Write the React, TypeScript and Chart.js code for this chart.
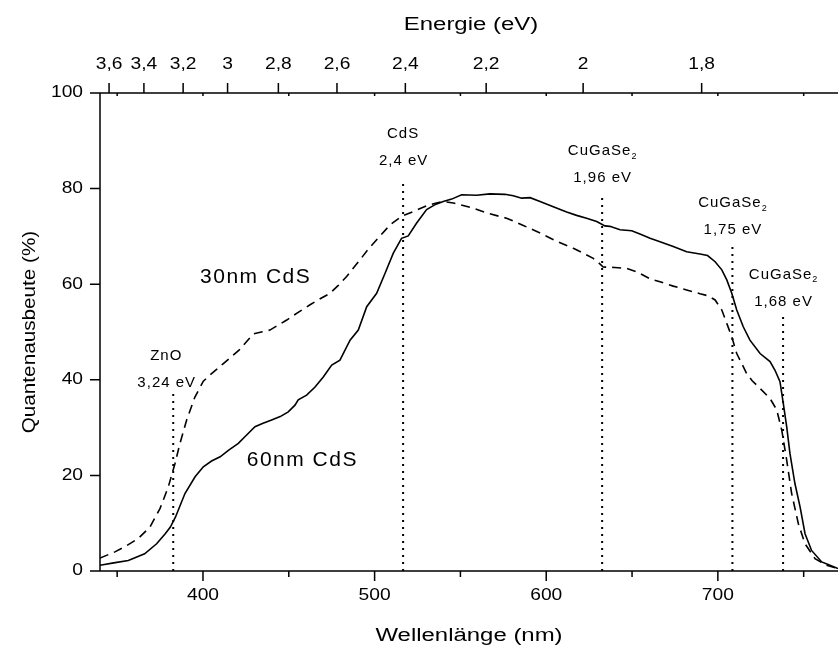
import { useEffect, useRef } from 'react';
import { Chart, registerables } from 'chart.js';

Chart.register(...registerables);

// 60nm CdS (solid)
const wl60 = [340, 348, 356.5, 366, 373, 378, 381, 384, 389.5, 395.4, 400.2, 405, 410, 415, 420.6, 425, 430.3, 435, 440, 445, 449.7, 453.6, 455.5, 460.4, 465.3, 470.1, 475, 479.8, 485.7, 490.5, 495.4, 501.2, 506.1, 510.9, 515.7, 519.6, 524.5, 530.3, 535, 540, 544.9, 550.7, 559.4, 567.2, 575.9, 580.8, 585.7, 590.6, 596.4, 604.1, 611.9, 617.7, 623.5, 629.4, 634.2, 637.1, 643, 649.8, 654.6, 660.5, 666.3, 674, 681.8, 689.6, 694, 698.4, 702.3, 705.2, 708.1, 711, 714.8, 718.7, 724.6, 730.4, 733.3, 736.2, 738.1, 740.1, 742, 744.9, 747.9, 750.8, 754.6, 760.5, 765.3, 770];
const qe60 = [1.2, 1.7, 2.2, 3.6, 5.7, 7.8, 9.2, 11.3, 16.2, 19.7, 21.8, 23, 23.9, 25.3, 26.7, 28.3, 30.2, 30.9, 31.6, 32.3, 33.3, 34.7, 35.8, 36.8, 38.5, 40.6, 43.1, 44.1, 48.3, 50.4, 55.3, 58.1, 62.3, 66.5, 69.6, 70.1, 72.8, 75.6, 76.6, 77.3, 77.8, 78.7, 78.6, 78.9, 78.8, 78.5, 78, 78.1, 77.3, 76.2, 75.1, 74.4, 73.8, 73.1, 72.2, 72.1, 71.4, 71.2, 70.5, 69.6, 68.9, 67.9, 66.8, 66.3, 66, 64.7, 63, 60.9, 58.1, 54.6, 51.1, 48.3, 45.5, 43.8, 42, 39.6, 35.1, 30.2, 24.6, 18.3, 13.4, 7.8, 4.3, 1.9, 1.2, 0.5];

// 30nm CdS (dashed)
const wl30 = [340, 348.7, 355, 362.3, 369.1, 375, 379.8, 383.7, 386.6, 390.5, 395.3, 400.2, 405, 411, 421, 429.3, 434, 439, 448.8, 455, 462.4, 468, 474, 479, 483.7, 491.5, 496, 501.2, 509, 515.7, 522.5, 530.3, 536, 540, 545.9, 550, 557.5, 565.3, 576.9, 586, 596.4, 606, 615.8, 622, 627.4, 630.5, 633.2, 640, 646.8, 652.7, 660, 666.3, 674, 681.8, 689.6, 694, 698.4, 702.3, 705.2, 708.1, 711, 716.8, 720, 724.6, 730.4, 734.3, 737.2, 740.1, 743, 746.9, 750.8, 756.6, 763.4, 770];
const qe30 = [2.7, 4, 5.2, 6.8, 9.2, 13.1, 17.6, 22.5, 26.7, 31.6, 36.4, 39.7, 41.3, 43.1, 46.2, 49.6, 50, 50.4, 52.5, 54, 55.7, 56.9, 58.1, 59.8, 61.6, 65.1, 67.2, 69.3, 72.4, 74.2, 75.2, 76.4, 77, 77.3, 77, 76.6, 75.9, 74.9, 73.8, 72.4, 70.7, 69, 67.5, 66.4, 65.4, 64.5, 63.6, 63.5, 63.3, 62.6, 61.2, 60.5, 59.6, 58.8, 58, 57.6, 56.7, 54.6, 51.8, 49, 45.5, 41.3, 39.8, 38.2, 36.1, 33.7, 29.5, 23.2, 16.2, 9.9, 5.7, 2.6, 1.2, 0.5];

const xMajorTicks = [400, 500, 600, 700];
const xMinorTicks = [350, 450, 550, 650, 750];
const yTicks = [0, 20, 40, 60, 80, 100];
const energyTicks = [3.6, 3.4, 3.2, 3, 2.8, 2.6, 2.4, 2.2, 2, 1.8];
const energyTickLabels = ['3,6', '3,4', '3,2', '3', '2,8', '2,6', '2,4', '2,2', '2', '1,8'];

const gapEnergies = [3.24, 2.4, 1.96, 1.75, 1.68];
const gapMaterials = ['ZnO', 'CdS', 'CuGaSe', 'CuGaSe', 'CuGaSe'];
const gapSubscripts = ['', '', '2', '2', '2'];
const gapEnergyLabels = ['3,24 eV', '2,4 eV', '1,96 eV', '1,75 eV', '1,68 eV'];
const gapLineTops = [37.8, 81.5, 79.1, 67.9, 53.6];
const gapLabelLevels = [39.4, 85.7, 82.2, 71.3, 56.4];

const curveLabels = ['30nm CdS', '60nm CdS'];
const curveLabelX = [398.3, 425.5];
const curveLabelY = [61.5, 23.2];

const HC = 1239.84;
const HC_AXIS = 1243;
const FONT = '"Liberation Sans", Arial, Helvetica, sans-serif';

type TOpts = { size: number; sx?: number; ls?: number; align?: 'left' | 'center' | 'right' };

function drawText(ctx: CanvasRenderingContext2D, s: string, x: number, y: number, o: TOpts) {
  ctx.save();
  ctx.font = `${o.size}px ${FONT}`;
  (ctx as any).letterSpacing = `${o.ls || 0}px`;
  ctx.textBaseline = 'middle';
  ctx.textAlign = 'left';
  ctx.fillStyle = '#000';
  const sx = o.sx || 1;
  const w = (ctx.measureText(s).width - (o.ls || 0)) * sx;
  let left = x;
  if (o.align === 'center' || !o.align) left = x - w / 2;
  else if (o.align === 'right') left = x - w;
  ctx.translate(left, y);
  ctx.scale(sx, 1);
  ctx.fillText(s, 0, 0);
  ctx.restore();
}

function measure(ctx: CanvasRenderingContext2D, s: string, size: number, ls: number) {
  ctx.save();
  ctx.font = `${size}px ${FONT}`;
  (ctx as any).letterSpacing = `${ls}px`;
  const w = ctx.measureText(s).width;
  ctx.restore();
  return w;
}

const axesPlugin = {
  id: 'axesPlugin',
  afterDatasetsDraw(chart: any) {
    const ctx: CanvasRenderingContext2D = chart.ctx;
    const xs = chart.scales.x;
    const ys = chart.scales.y;
    const { left, right, top, bottom } = chart.chartArea;
    ctx.save();
    ctx.strokeStyle = '#000';
    ctx.lineWidth = 1.5;
    ctx.lineCap = 'butt';
    ctx.beginPath();
    ctx.moveTo(left, top);
    ctx.lineTo(left, bottom);
    ctx.moveTo(left, bottom);
    ctx.lineTo(right, bottom);
    ctx.moveTo(left, top);
    ctx.lineTo(right, top);
    ctx.stroke();

    ctx.beginPath();
    for (const v of yTicks) {
      const y = ys.getPixelForValue(v);
      ctx.moveTo(left - 10, y);
      ctx.lineTo(left, y);
    }
    for (const v of xMajorTicks) {
      const x = xs.getPixelForValue(v);
      ctx.moveTo(x, bottom);
      ctx.lineTo(x, bottom + 10);
    }
    for (const v of xMinorTicks) {
      const x = xs.getPixelForValue(v);
      ctx.moveTo(x, bottom);
      ctx.lineTo(x, bottom + 6);
    }
    for (const e of energyTicks) {
      const x = xs.getPixelForValue(HC_AXIS / e);
      ctx.moveTo(x, top);
      ctx.lineTo(x, top - 10);
    }
    for (const v of [...xMajorTicks, ...xMinorTicks]) {
      const x = xs.getPixelForValue(v);
      ctx.moveTo(x, top);
      ctx.lineTo(x, top + 3);
    }
    ctx.stroke();
    ctx.restore();

    for (const v of yTicks) {
      drawText(ctx, String(v), left - 17, ys.getPixelForValue(v), { size: 16, sx: 1.2, align: 'right' });
    }
    for (const v of xMajorTicks) {
      drawText(ctx, String(v), xs.getPixelForValue(v), bottom + 25, { size: 16, sx: 1.2 });
    }
    energyTicks.forEach((e, i) => {
      drawText(ctx, energyTickLabels[i], xs.getPixelForValue(HC_AXIS / e), top - 28, { size: 16, sx: 1.2 });
    });

    drawText(ctx, 'Energie (eV)', (left + right) / 2 + 2, 25, { size: 18, sx: 1.33 });
    drawText(ctx, 'Wellenlänge (nm)', (left + right) / 2, 636, { size: 18, sx: 1.33 });
    ctx.save();
    ctx.translate(30, (top + bottom) / 2);
    ctx.rotate(-Math.PI / 2);
    drawText(ctx, 'Quantenausbeute (%)', 0, 0, { size: 18, sx: 1.15 });
    ctx.restore();

    gapEnergies.forEach((e, i) => {
      const shift = i === 0 ? -7 : 0;
      const x = xs.getPixelForValue(HC / e) + shift;
      const yl = ys.getPixelForValue(gapLabelLevels[i]);
      drawText(ctx, gapEnergyLabels[i], x, yl, { size: 15, ls: 1 });
      const name = gapMaterials[i];
      const sub = gapSubscripts[i];
      const wMain = measure(ctx, name, 15, 1);
      const wSub = sub ? measure(ctx, sub, 9, 0) : 0;
      const total = wMain + wSub;
      const yn = yl - 27;
      drawText(ctx, name, x - total / 2, yn, { size: 15, ls: 1, align: 'left' });
      if (sub) drawText(ctx, sub, x - total / 2 + wMain, yn + 5, { size: 9, align: 'left' });
    });

    curveLabels.forEach((s, i) => {
      drawText(ctx, s, xs.getPixelForValue(curveLabelX[i]), ys.getPixelForValue(curveLabelY[i]), { size: 21, ls: 1.5, align: 'left' });
    });
  },
};

export default function App() {
  const ref = useRef<HTMLCanvasElement | null>(null);
  useEffect(() => {
    if (!ref.current) return;
    const gapSets = gapEnergies.map((e, i) => ({
      data: [
        { x: HC / e, y: 0 },
        { x: HC / e, y: gapLineTops[i] },
      ],
      borderColor: '#000',
      borderWidth: 2,
      borderDash: [2, 5],
      pointRadius: 0,
      showLine: true,
      fill: false,
      tension: 0,
    }));
    const chart = new Chart(ref.current, {
      type: 'scatter',
      data: {
        datasets: [
          {
            data: wl60.map((x, i) => ({ x, y: qe60[i] })),
            borderColor: '#000',
            borderWidth: 1.6,
            pointRadius: 0,
            showLine: true,
            fill: false,
            tension: 0,
          },
          {
            data: wl30.map((x, i) => ({ x, y: qe30[i] })),
            borderColor: '#000',
            borderWidth: 1.6,
            borderDash: [9, 6],
            pointRadius: 0,
            showLine: true,
            fill: false,
            tension: 0,
          },
          ...gapSets,
        ] as any,
      },
      options: {
        animation: false,
        responsive: false,
        maintainAspectRatio: false,
        devicePixelRatio: 1,
        events: [],
        layout: { padding: { left: 100, right: 0, top: 93, bottom: 77 } },
        plugins: { legend: { display: false }, tooltip: { enabled: false } },
        scales: {
          x: { type: 'linear', min: 340, max: 770, display: false },
          y: { type: 'linear', min: 0, max: 100, display: false },
        },
      },
      plugins: [axesPlugin],
    });
    return () => chart.destroy();
  }, []);
  return (
    <div style={{ position: 'fixed', left: 0, top: 0, width: 838, height: 648, background: '#fff' }}>
      <canvas ref={ref} width={838} height={648} style={{ width: 838, height: 648, display: 'block' }} />
    </div>
  );
}
